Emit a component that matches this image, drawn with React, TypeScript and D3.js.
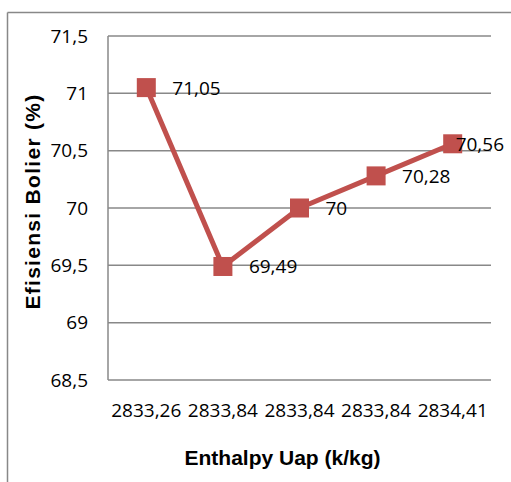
import React from "react";
import * as d3 from "d3";

const categories = ["2833,26", "2833,84 ", "2833,84  ", "2833,84   ", "2834,41"];
const categoryLabels = ["2833,26", "2833,84", "2833,84", "2833,84", "2834,41"];
const values = [71.05, 69.49, 70.0, 70.28, 70.56];
const valueLabels = ["71,05", "69,49", "70", "70,28", "70,56"];
const yTicks = [68.5, 69, 69.5, 70, 70.5, 71, 71.5];
const yTickLabels = ["68,5", "69", "69,5", "70", "70,5", "71", "71,5"];

const W = 511;
const H = 482;
const plot = { left: 108, right: 491, top: 36, bottom: 380 };
const RED = "#C0504D";
const GRID = "#888888";
const NUM_FONT = "'Open Sans', 'Noto Sans', sans-serif";
const TITLE_FONT = "'Liberation Sans', Arial, sans-serif";

function measure(text: string, font: string): number {
  if (typeof document === "undefined") return text.length * 10;
  const c = document.createElement("canvas");
  const ctx = c.getContext("2d");
  if (!ctx) return text.length * 10;
  ctx.font = font;
  return ctx.measureText(text).width;
}

export default function App() {
  const x = d3
    .scaleBand<string>()
    .domain(categories)
    .range([plot.left, plot.right])
    .paddingInner(0)
    .paddingOuter(0);
  const y = d3.scaleLinear().domain([68.5, 71.5]).range([plot.bottom, plot.top]);
  const cx = (i: number) => (x(categories[i]) as number) + x.bandwidth() / 2;

  const line = d3
    .line<number>()
    .x((_, i) => cx(i))
    .y((d) => y(d));

  const labelFont = `19px ${NUM_FONT}`;
  const chartRight = 504;

  return (
    <svg
      width={W}
      height={H}
      style={{ position: "absolute", left: 0, top: 0, background: "#fff" }}
    >
      <rect x={0} y={0} width={W} height={H} fill="#fff" />
      {/* chart frame */}
      <line x1={7.5} x2={W} y1={12.5} y2={12.5} stroke={GRID} strokeWidth={1.5} />
      <line x1={7.5} x2={7.5} y1={12.5} y2={H} stroke={GRID} strokeWidth={1.5} />

      {/* gridlines */}
      {yTicks.map((t) => (
        <line
          key={t}
          x1={plot.left}
          x2={plot.right}
          y1={y(t)}
          y2={y(t)}
          stroke={GRID}
          strokeWidth={1.5}
        />
      ))}
      <line
        x1={plot.left}
        x2={plot.left}
        y1={plot.top}
        y2={plot.bottom}
        stroke={GRID}
        strokeWidth={1.5}
      />

      {/* y tick labels */}
      {yTicks.map((t, i) => (
        <text
          key={"yl" + t}
          x={88}
          y={y(t) + 6.5}
          textAnchor="end"
          fontFamily={NUM_FONT}
          fontSize={19}
          fill="#000"
        >
          {yTickLabels[i]}
        </text>
      ))}

      {/* x tick labels */}
      {categories.map((c, i) => (
        <text
          key={"xl" + i}
          x={cx(i)}
          y={417}
          textAnchor="middle"
          fontFamily={NUM_FONT}
          fontSize={19}
          fill="#000"
        >
          {categoryLabels[i]}
        </text>
      ))}

      {/* series line */}
      <path d={line(values) || ""} fill="none" stroke={RED} strokeWidth={5} strokeLinejoin="round" />
      {values.map((v, i) => (
        <rect
          key={"m" + i}
          x={cx(i) - 9.5}
          y={y(v) - 9.5}
          width={19}
          height={19}
          fill={RED}
        />
      ))}

      {/* data labels */}
      {values.map((v, i) => {
        const w = measure(valueLabels[i], labelFont);
        let lx = cx(i) + 26;
        if (lx + w > chartRight) lx = chartRight - w;
        return (
          <text
            key={"dl" + i}
            x={lx}
            y={y(v) + 7}
            fontFamily={NUM_FONT}
            fontSize={19}
            fill="#000"
          >
            {valueLabels[i]}
          </text>
        );
      })}

      {/* axis titles */}
      <text
        x={282.5}
        y={465}
        textAnchor="middle"
        fontFamily={TITLE_FONT}
        fontWeight="bold"
        fontSize={21}
        fill="#000"
      >
        Enthalpy Uap (k/kg)
      </text>
      <text
        transform="translate(40,201.5) rotate(-90)"
        textAnchor="middle"
        fontFamily={TITLE_FONT}
        fontWeight="bold"
        fontSize={21}
        letterSpacing={1.3}
        fill="#000"
      >
        Efisiensi Bolier (%)
      </text>
    </svg>
  );
}
